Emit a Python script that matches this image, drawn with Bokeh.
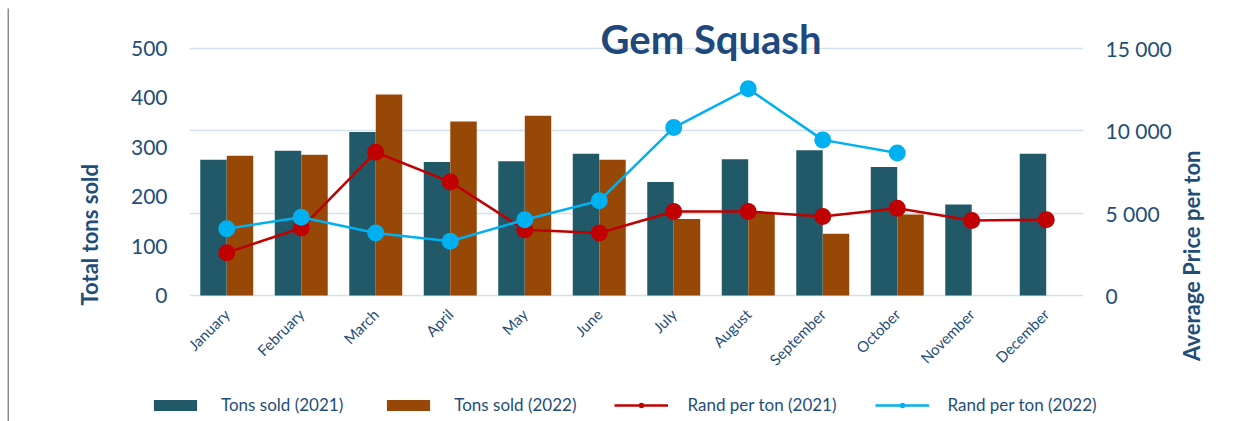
import math
from bokeh.plotting import figure
from bokeh.layouts import row, column
from bokeh.models import (FactorRange, Range1d, LinearAxis, FixedTicker, Grid, Label,
                          Legend, LegendItem, ColumnDataSource, Title)
from bokeh.transform import dodge
from bokeh.embed import file_html
from bokeh.resources import INLINE

nan = float("nan")

months = ["January", "February", "March", "April", "May", "June", "July",
          "August", "September", "October", "November", "December"]
tons_2021 = [275, 293, 331, 270, 272, 287, 230, 276, 294, 260, 184, 287]
tons_2022 = [283, 285, 407, 352, 364, 275, 155, 167, 125, 164, nan, nan]
rand_2021 = [2600, 4100, 8700, 6900, 4000, 3800, 5100, 5100, 4800, 5300, 4550, 4600]
rand_2022 = [4050, 4750, 3800, 3300, 4600, 5750, 10200, 12550, 9450, 8650, nan, nan]
left_ticks = [0, 100, 200, 300, 400, 500]
right_ticks = [0, 5000, 10000, 15000]
series_names = ["Tons sold (2021)", "Tons sold (2022)",
                "Rand per ton (2021)", "Rand per ton (2022)"]

TXT = "#1F4E79"
FONT = "Lato"
C21, C22, R21, R22 = "#215968", "#974706", "#C00000", "#00B0F0"
EDGE = "#8C8C8C"

src = ColumnDataSource(dict(months=months, t21=tons_2021, t22=tons_2022,
                            r21=rand_2021, r22=rand_2022))

# ---------------- main chart ----------------
p = figure(width=1166, height=372,
           x_range=FactorRange(factors=months, range_padding=0),
           y_range=Range1d(-6, 506),
           output_backend="svg", toolbar_location=None,
           min_border_left=180, min_border_right=92,
           min_border_top=37, min_border_bottom=82)
p.extra_y_ranges = {"price": Range1d(-180, 15180)}
p.outline_line_color = None
p.xgrid.visible = False
p.ygrid.visible = False

p.title = Title(text="Gem Squash", align="left", offset=411, standoff=-34,
                text_font=FONT, text_font_style="bold", text_font_size="40px",
                text_color="#1F497D")

ya = p.yaxis[0]
ya.ticker = FixedTicker(ticks=left_ticks)
ya.axis_line_color = None
ya.major_tick_line_color = None
ya.minor_tick_line_color = None
ya.major_tick_out = 0
ya.major_label_text_font = FONT
ya.major_label_text_font_size = "21px"
ya.major_label_text_color = TXT
ya.major_label_standoff = 22

p.add_layout(Title(text="Total tons sold", align="left", offset=-7, standoff=50,
                   text_font=FONT, text_font_style="bold", text_font_size="22px",
                   text_color=TXT), "left")

ra = LinearAxis(y_range_name="price", ticker=FixedTicker(ticks=right_ticks),
                major_label_overrides={t: f"{t:,}".replace(",", " ") for t in right_ticks})
ra.axis_line_color = None
ra.major_tick_line_color = None
ra.minor_tick_line_color = None
ra.major_tick_out = 0
ra.major_label_text_font = FONT
ra.major_label_text_font_size = "21px"
ra.major_label_text_color = TXT
ra.major_label_standoff = 22
p.add_layout(ra, "right")

xa = p.xaxis[0]
xa.axis_line_color = None
xa.major_tick_line_color = None
xa.minor_tick_line_color = None
xa.major_tick_out = 0
xa.major_label_orientation = math.pi / 4
xa.major_label_text_font = FONT
xa.major_label_text_font_size = "15px"
xa.major_label_text_color = TXT
xa.major_label_standoff = 13

grid = Grid(dimension=1, ticker=ra.ticker, y_range_name="price",
            grid_line_color="#D6E1F0", grid_line_width=1.6)
p.add_layout(grid)

p.vbar(x=dodge("months", -0.178, range=p.x_range), top="t21", width=0.355,
       source=src, fill_color=C21, line_color=None)
p.vbar(x=dodge("months", 0.178, range=p.x_range), top="t22", width=0.355,
       source=src, fill_color=C22, line_color=None)
p.line(x="months", y="r21", y_range_name="price", source=src,
       line_color=R21, line_width=2.5)
p.scatter(x="months", y="r21", y_range_name="price", source=src,
          size=17, fill_color=R21, line_color=None)
p.line(x="months", y="r22", y_range_name="price", source=src,
       line_color=R22, line_width=2.5)
p.scatter(x="months", y="r22", y_range_name="price", source=src,
          size=17, fill_color=R22, line_color=None)

# ---------------- right axis title strip ----------------
rf = figure(width=62, height=372, x_range=Range1d(0, 1), y_range=Range1d(0, 1),
            x_axis_type=None, y_axis_type=None, output_backend="svg",
            toolbar_location=None, min_border=0)
rf.outline_line_color = None
rf.xgrid.visible = False
rf.ygrid.visible = False
rf.add_layout(Label(x=16, y=247, x_units="canvas", y_units="canvas",
                    text="Average Price per ton",
                    angle=math.pi / 2, text_align="center", text_baseline="middle",
                    text_font=FONT, text_font_style="bold", text_font_size="22px",
                    text_color=TXT))

# ---------------- legend strip ----------------
lf = figure(width=1228, height=41, x_range=Range1d(0, 1), y_range=Range1d(0, 1),
            x_axis_type=None, y_axis_type=None, output_backend="svg",
            toolbar_location=None, min_border=0)
lf.outline_line_color = None
lf.xgrid.visible = False
lf.ygrid.visible = False
dummy = ColumnDataSource(dict(x=[nan], y=[nan]))
g1 = lf.vbar(x="x", top="y", width=0.1, source=dummy, fill_color=C21, line_color=None)
g2 = lf.vbar(x="x", top="y", width=0.1, source=dummy, fill_color=C22, line_color=None)
g3 = lf.line(x="x", y="y", source=dummy, line_color=R21, line_width=2.5)
g4 = lf.scatter(x="x", y="y", source=dummy, size=12, fill_color=R21, line_color=None)
g5 = lf.line(x="x", y="y", source=dummy, line_color=R22, line_width=2.5)
g6 = lf.scatter(x="x", y="y", source=dummy, size=12, fill_color=R22, line_color=None)
legend = Legend(items=[LegendItem(label=series_names[0], renderers=[g1]),
                       LegendItem(label=series_names[1], renderers=[g2]),
                       LegendItem(label=series_names[2], renderers=[g3, g4]),
                       LegendItem(label=series_names[3], renderers=[g5, g6])],
                orientation="horizontal", location=(139, 6),
                glyph_width=54, glyph_height=14, label_standoff=19, spacing=38,
                padding=0, margin=0, border_line_color=None, background_fill_alpha=0,
                label_text_font=FONT, label_text_font_size="17px",
                label_text_color=TXT, label_height=20)
lf.add_layout(legend)

# ---------------- frame edges (top and left rules) ----------------
def rule(w, h, left, top):
    f = figure(width=w, height=h, x_axis_type=None, y_axis_type=None,
               output_backend="svg", toolbar_location=None, min_border=0,
               min_border_left=left, min_border_top=top,
               background_fill_color=EDGE, border_fill_color="white")
    f.outline_line_color = None
    f.xgrid.visible = False
    f.ygrid.visible = False
    return f

top_rule = rule(1237, 8, 7, 6)
left_rule = rule(9, 413, 7, 0)

for f in (p, rf, lf, top_rule, left_rule):
    if "frame_align" in f.properties():
        f.frame_align = False

layout = column(
    top_rule,
    row(left_rule, column(row(p, rf, spacing=0), lf, spacing=0), spacing=0),
    spacing=0)

open("out.html", "w").write(file_html(layout, INLINE))
